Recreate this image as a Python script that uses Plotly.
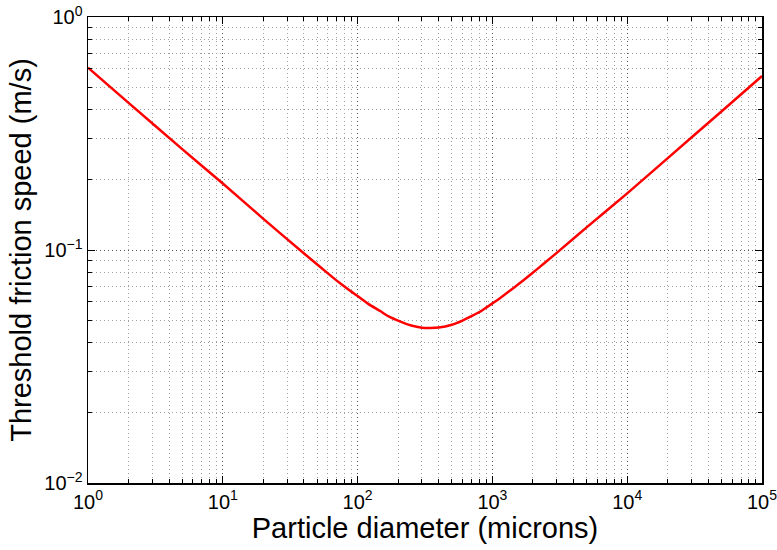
import plotly.graph_objects as go

# Data
diameter_um = [1, 2, 5, 10, 20, 38.5, 62.4, 70, 85, 100, 120, 147, 170, 206, 250, 300,
               344, 400, 500, 600, 700, 809, 900, 1000, 1150, 1300, 1600, 1900, 2500,
               3170, 5000, 10000, 20000, 50000, 100000]
threshold_speed = [0.606, 0.428, 0.271, 0.193, 0.136, 0.0985, 0.0780, 0.0739, 0.0678,
                   0.0634, 0.0587, 0.0547, 0.0519, 0.0494, 0.0474, 0.0464, 0.0463,
                   0.0465, 0.0478, 0.0498, 0.0520, 0.0543, 0.0566, 0.0590, 0.0624,
                   0.0658, 0.0721, 0.0781, 0.0890, 0.0999, 0.125, 0.175, 0.248, 0.393,
                   0.558]

x_tick_vals = [1, 10, 100, 1000, 10000, 100000]
x_tick_text = ["10<sup>0</sup>", "10<sup>1</sup>", "10<sup>2</sup>", "10<sup>3</sup>",
               "10<sup>4</sup>", "10<sup>5</sup>"]
y_tick_vals = [0.01, 0.1, 1]
y_tick_text = ["10<sup>\u22122</sup>", "10<sup>\u22121</sup>", "10<sup>0</sup>"]

x_minor = [k * 10 ** e for e in range(0, 5) for k in range(2, 10)]
y_minor = [k * 10.0 ** e for e in (-2, -1) for k in range(2, 10)]

FONT = "Liberation Sans, Arial, Helvetica, sans-serif"

fig = go.Figure()
fig.add_trace(go.Scatter(
    x=diameter_um, y=threshold_speed, mode="lines",
    line=dict(color="#ff0000", width=2.5, shape="spline", smoothing=0.5),
    showlegend=False, hoverinfo="skip"))

axis_common = dict(
    automargin=False,
    showline=True, linecolor="black", linewidth=1.5, mirror="allticks",
    ticks="inside", ticklen=7, tickwidth=1, tickcolor="black",
    showgrid=True, gridcolor="#555555", gridwidth=1, griddash="1px,3px",
    zeroline=False, ticklabeloverflow="allow",
    tickfont=dict(family=FONT, size=20, color="black"),
)

fig.update_xaxes(
    type="log", range=[0, 5], tickvals=x_tick_vals, ticktext=x_tick_text,
    title=dict(text="Particle diameter (microns)", font=dict(family=FONT, size=29, color="black"), standoff=2),
    minor=dict(tickvals=x_minor, ticks="inside", ticklen=4, tickcolor="black",
               showgrid=True, gridcolor="#a0a0a0", gridwidth=1, griddash="1px,3px"),
    **axis_common)
fig.update_yaxes(
    type="log", range=[-2, 0], tickvals=y_tick_vals, ticktext=y_tick_text,
    title=dict(text="Threshold friction speed (m/s)", font=dict(family=FONT, size=29, color="black"), standoff=4),
    minor=dict(tickvals=y_minor, ticks="inside", ticklen=4, tickcolor="black",
               showgrid=True, gridcolor="#a0a0a0", gridwidth=1, griddash="1px,3px"),
    **axis_common)

fig.update_layout(
    width=777, height=550,
    margin=dict(l=88, r=15, t=17, b=67),
    paper_bgcolor="white", plot_bgcolor="white",
    font=dict(family=FONT, color="black"),
)

# Remove the page body's default 8px margin so the figure fills the window.
fig.write_html("out.html",
               config={"displayModeBar": False, "staticPlot": True},
               post_script="document.body.style.margin='0';"
                           "document.body.style.overflow='hidden';")
